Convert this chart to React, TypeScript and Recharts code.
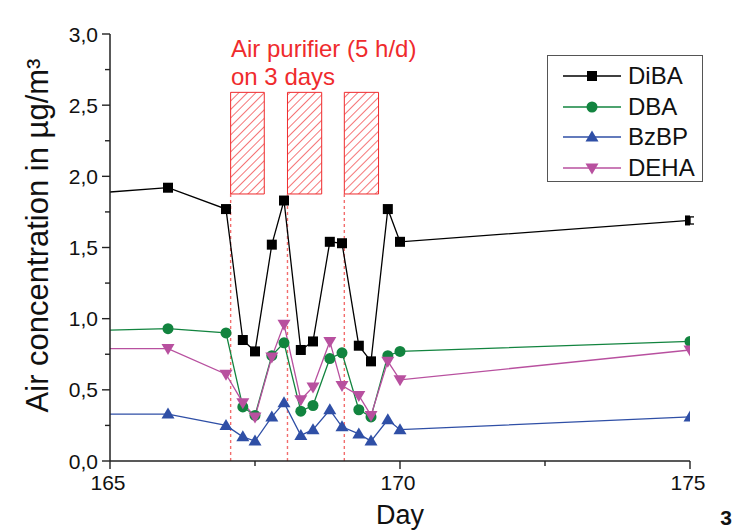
import React from 'react';
import { LineChart, Line, XAxis, YAxis, ReferenceArea, ReferenceLine, Legend, ErrorBar } from 'recharts';

const FONT = '"Liberation Sans", Arial, Helvetica, sans-serif';

// Day of measurement (first point lies before the visible range, line enters from the left edge)
const days = [164, 166, 167, 167.29, 167.5, 167.79, 168, 168.29, 168.5, 168.79, 169, 169.29, 169.5, 169.79, 170, 175];
const diBA = [1.86, 1.92, 1.77, 0.85, 0.77, 1.52, 1.83, 0.78, 0.84, 1.54, 1.53, 0.81, 0.7, 1.77, 1.54, 1.69];
const diBAErr = [0, 0, 0, 0, 0, 0, 0, 0, 0, 0, 0, 0, 0, 0, 0, 0.025];
const dBA = [0.91, 0.93, 0.9, 0.38, 0.32, 0.74, 0.83, 0.35, 0.39, 0.72, 0.76, 0.36, 0.31, 0.74, 0.77, 0.84];
const bzBP = [0.33, 0.33, 0.25, 0.17, 0.14, 0.31, 0.41, 0.18, 0.22, 0.36, 0.24, 0.19, 0.14, 0.29, 0.22, 0.31];
const dEHA = [0.79, 0.79, 0.61, 0.41, 0.31, 0.73, 0.96, 0.43, 0.52, 0.84, 0.53, 0.46, 0.32, 0.7, 0.57, 0.78];

const xTicks = [165, 167.5, 170, 172.5, 175];
const xMajor = [165, 170, 175];
const yTicks = [0, 0.25, 0.5, 0.75, 1, 1.25, 1.5, 1.75, 2, 2.25, 2.5, 2.75, 3];
const yMajor = [0, 0.5, 1, 1.5, 2, 2.5, 3];

// Air purifier periods
const purifierStart = [167.08, 168.06, 169.04];
const purifierEnd = [167.66, 168.65, 169.63];
const purifierLow = 1.876;
const purifierHigh = 2.59;

const annotationLines = ['Air purifier (5 h/d)', 'on 3 days'];
const yTitle = 'Air concentration in µg/m³';
const xTitle = 'Day';
const panelLabel = '3';

const RED = '#ef2b2d';

const series = [
  { key: 'DiBA', name: 'DiBA', color: '#000000', shape: 'square' },
  { key: 'DBA', name: 'DBA', color: '#12843f', shape: 'circle' },
  { key: 'BzBP', name: 'BzBP', color: '#2f4fa6', shape: 'up' },
  { key: 'DEHA', name: 'DEHA', color: '#b8509f', shape: 'down' },
];

const data = days.map((d, i) => ({
  day: d,
  DiBA: diBA[i],
  DiBAErr: diBAErr[i],
  DBA: dBA[i],
  BzBP: bzBP[i],
  DEHA: dEHA[i],
}));

const fmt = (v: number) => v.toFixed(1).replace('.', ',');

const marker = (shape: string, color: string, cx: number, cy: number, key?: any) => {
  switch (shape) {
    case 'square':
      return <rect key={key} x={cx - 5} y={cy - 5} width={10} height={10} fill={color} />;
    case 'circle':
      return <circle key={key} cx={cx} cy={cy} r={5.5} fill={color} />;
    case 'up':
      return <polygon key={key} points={`${cx},${cy - 6.5} ${cx + 6.5},${cy + 4.5} ${cx - 6.5},${cy + 4.5}`} fill={color} />;
    default:
      return <polygon key={key} points={`${cx},${cy + 6.5} ${cx + 6.5},${cy - 4.5} ${cx - 6.5},${cy - 4.5}`} fill={color} />;
  }
};

const makeDot = (shape: string, color: string) => (props: any) => {
  const { cx, cy, index } = props;
  if (cx == null || cy == null) return <g key={`e${index}`} />;
  return marker(shape, color, cx, cy, `d${index}`);
};

const XTick = (props: any) => {
  const { x, y, payload } = props;
  const major = xMajor.includes(payload.value);
  return (
    <g>
      <line x1={x} x2={x} y1={y} y2={y + (major ? 8 : 5)} stroke="#222" strokeWidth={1.4} />
      {major && (
        <text x={x - 2} y={y + 29} textAnchor="middle" fontSize={21} fontFamily={FONT} fill="#111">
          {payload.value}
        </text>
      )}
    </g>
  );
};

const YTick = (props: any) => {
  const { x, y, payload } = props;
  const major = yMajor.includes(payload.value);
  return (
    <g>
      <line x1={x - (major ? 8 : 5)} x2={x} y1={y} y2={y} stroke="#222" strokeWidth={1.4} />
      {major && (
        <text x={x - 12} y={y} dy="0.36em" textAnchor="end" fontSize={21} fontFamily={FONT} fill="#111">
          {fmt(payload.value)}
        </text>
      )}
    </g>
  );
};

const YTitle = (props: any) => {
  const vb = props.viewBox || {};
  const cx = (vb.x ?? 0) + 48;
  const cy = (vb.y ?? 0) + (vb.height ?? 0) / 2 - 12;
  return (
    <text x={cx} y={cy} transform={`rotate(-90, ${cx}, ${cy})`} textAnchor="middle" fontSize={31} fontFamily={FONT} fill="#111">
      {yTitle}
    </text>
  );
};

const XTitle = (props: any) => {
  const vb = props.viewBox || {};
  const cx = (vb.x ?? 0) + (vb.width ?? 0) / 2;
  return (
    <text x={cx} y={524} textAnchor="middle" fontSize={27} fontFamily={FONT} fill="#111">
      {xTitle}
    </text>
  );
};

const renderLegend = () => (
  <div
    style={{
      width: 156,
      height: 127,
      boxSizing: 'border-box',
      border: '1px solid #555',
      background: '#fff',
      paddingTop: 5,
      fontFamily: FONT,
    }}
  >
    {series.map((s) => (
      <div key={s.key} style={{ display: 'flex', alignItems: 'center', height: 30.5 }}>
        <svg width={80} height={30} style={{ display: 'block' }}>
          <line x1={15} x2={73} y1={15} y2={15} stroke={s.color} strokeWidth={1.4} />
          {marker(s.shape, s.color, 44, 15)}
        </svg>
        <span style={{ fontSize: 24, color: '#111', lineHeight: '30px' }}>{s.name}</span>
      </div>
    ))}
  </div>
);

export default function App() {
  return (
    <div style={{ position: 'absolute', left: 0, top: 0, width: 734, height: 532, background: '#fff' }}>
      <LineChart width={734} height={532} data={data} margin={{ top: 34, right: 44, bottom: 0, left: 0 }}>
        <defs>
          <pattern id="hatch" patternUnits="userSpaceOnUse" width={6} height={6} patternTransform="rotate(45)">
            <line x1={0} y1={0} x2={0} y2={6} stroke={RED} strokeWidth={1.3} />
          </pattern>
        </defs>
        <XAxis
          dataKey="day"
          type="number"
          domain={[165, 175]}
          allowDataOverflow
          ticks={xTicks}
          interval={0}
          tickSize={0}
          tickMargin={0}
          tick={<XTick />}
          tickLine={false}
          height={71}
          axisLine={{ stroke: '#222', strokeWidth: 1.5 }}
          label={<XTitle />}
        />
        <YAxis
          type="number"
          domain={[0, 3]}
          allowDataOverflow
          ticks={yTicks}
          interval={0}
          tickSize={0}
          tickMargin={0}
          tick={<YTick />}
          tickLine={false}
          width={110}
          axisLine={{ stroke: '#222', strokeWidth: 1.5 }}
          label={<YTitle />}
        />
        {purifierStart.map((s, i) => (
          <ReferenceArea
            key={`a${i}`}
            x1={s}
            x2={purifierEnd[i]}
            y1={purifierLow}
            y2={purifierHigh}
            fill="url(#hatch)"
            fillOpacity={1}
            stroke={RED}
            strokeWidth={1}
          />
        ))}
        {purifierStart.map((s, i) => (
          <ReferenceLine
            key={`l${i}`}
            segment={[
              { x: s, y: 0 },
              { x: s, y: purifierLow },
            ]}
            stroke="#f26d6d"
            strokeWidth={1.4}
            strokeDasharray="3 3"
          />
        ))}
        <Line dataKey="DiBA" name="DiBA" stroke="#000" strokeWidth={1.3} dot={makeDot('square', '#000')} isAnimationActive={false}>
          <ErrorBar dataKey="DiBAErr" width={4} stroke="#000" strokeWidth={1.3} direction="y" />
        </Line>
        <Line dataKey="DBA" name="DBA" stroke="#12843f" strokeWidth={1.3} dot={makeDot('circle', '#12843f')} isAnimationActive={false} />
        <Line dataKey="BzBP" name="BzBP" stroke="#2f4fa6" strokeWidth={1.3} dot={makeDot('up', '#2f4fa6')} isAnimationActive={false} />
        <Line dataKey="DEHA" name="DEHA" stroke="#b8509f" strokeWidth={1.3} dot={makeDot('down', '#b8509f')} isAnimationActive={false} />
        <Legend
          layout="vertical"
          align="center"
          verticalAlign="middle"
          content={renderLegend}
          wrapperStyle={{ left: 547, top: 55, width: 156, height: 127 }}
        />
        <text x={231} y={57} fontSize={24} fontFamily={FONT} fill={RED}>
          {annotationLines[0]}
        </text>
        <text x={231} y={85} fontSize={24} fontFamily={FONT} fill={RED}>
          {annotationLines[1]}
        </text>
        <text x={732} y={525} textAnchor="end" fontSize={21} fontWeight="bold" fontFamily={FONT} fill="#111">
          {panelLabel}
        </text>
      </LineChart>
    </div>
  );
}
